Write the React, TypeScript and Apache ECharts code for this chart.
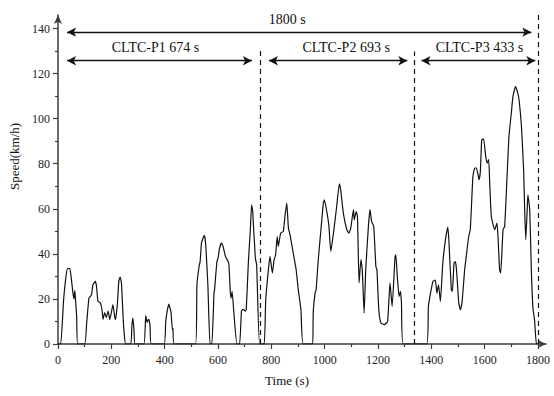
import React, { useEffect, useRef } from "react";
import * as echarts from "echarts";

// Speed profile (time in s, speed in km/h)
const timeS = [
  0, 10, 21, 28, 35, 44, 50, 56, 60, 63, 65, 70, 74,
  100, 108, 116, 121, 126, 131, 140, 144, 150, 159, 165, 169, 175, 181, 188, 194, 200, 206, 213, 216, 223, 228, 233, 238, 244, 248, 254,
  273, 277, 281, 285, 289,
  322, 329, 334, 337, 341, 345, 350,
  398, 404, 410, 416, 420, 424, 429, 431, 435,
  516, 521, 529, 533, 538, 544, 549, 554, 562, 570,
  577, 585, 587, 596, 600, 606, 613, 619, 628, 638, 641, 646, 649, 653, 659, 671,
  681, 688, 694, 703, 706, 714, 721, 726, 730, 740, 745, 756,
  773, 779, 789, 795, 804, 810, 816, 822, 826, 835, 845, 851, 858, 864, 870, 880, 893, 901, 911, 919,
  955, 957, 964, 968, 976, 986, 995, 999, 1008, 1016, 1023, 1033, 1045, 1055, 1060, 1070, 1083, 1091, 1098, 1108, 1111, 1118, 1123, 1129, 1136, 1141, 1148, 1154, 1164, 1170, 1176, 1184, 1192, 1196, 1203, 1211, 1224, 1236, 1245, 1253, 1264, 1267, 1272, 1279, 1284, 1288, 1294,
  1383, 1389, 1396, 1406, 1415, 1421, 1427, 1434, 1443, 1453, 1462, 1466, 1475, 1479, 1485, 1490, 1494, 1503, 1509, 1515, 1525, 1531, 1540, 1546, 1551, 1556, 1563, 1569, 1579, 1584, 1589, 1596, 1604, 1609, 1615, 1619, 1625, 1638, 1646, 1650, 1656, 1660, 1669, 1675, 1684, 1691, 1700, 1706, 1716, 1724, 1729, 1738, 1746, 1750, 1754, 1759, 1762, 1769, 1775, 1781, 1787, 1794, 1800,
];
const speedKmh = [
  0, 0, 19.6, 28, 33.5, 33.5, 29, 22.6, 20, 23.7, 21, 12, 0,
  0, 10, 20.4, 21, 22, 26.3, 27.8, 25.9, 18.9, 18.2, 15.2, 10.9, 13.9, 11.8, 14.6, 10.9, 13.9, 17.5, 11.8, 10.9, 18.2, 27.8, 29.7, 27, 12.2, 4.9, 0,
  0, 8, 11.5, 6, 0,
  0, 12.6, 9.6, 10.5, 10.9, 8, 0,
  0, 10, 15, 17.7, 16, 13.8, 6.3, 7, 0,
  0, 26.3, 34.4, 36.6, 44.8, 47, 48.2, 44, 26.3, 0,
  0, 22.6, 24, 36.6, 38, 42.6, 44.8, 43.3, 38.9, 36.6, 35.2, 23.4, 20.4, 23.4, 14.6, 0,
  0, 14.6, 15.4, 14.6, 15.4, 36.6, 50, 61.8, 59, 38.1, 35.2, 0,
  0, 19.7, 33, 38.9, 31.5, 37.1, 39.6, 47.7, 43.3, 49.2, 50, 56.6, 62.5, 51.5, 48.5, 41.8, 33, 24.1, 15.2, 0,
  0, 13.7, 22.6, 24.1, 37.4, 50.7, 62.5, 64, 58.8, 52.2, 41.1, 49.2, 61, 71.1, 68.5, 58.1, 50.7, 49.2, 51.5, 59.6, 55.1, 58.8, 56.6, 27.1, 37.4, 33, 13.7, 33, 52.2, 59.6, 54.4, 52.2, 34.4, 33, 15.2, 9.3, 8.6, 10, 27.1, 16.7, 38.9, 39.6, 30.6, 21.1, 23.4, 18.2, 0,
  0, 16.7, 21.9, 27.8, 28.4, 22.6, 26.3, 18.9, 35.9, 46.3, 51.9, 45.5, 24.1, 23.4, 35.9, 36.6, 33.5, 18.2, 15.2, 18.2, 33, 38.9, 47.7, 50.7, 62.5, 74.4, 78.1, 78.1, 72.9, 76.9, 90.6, 91, 83.2, 80.3, 81.8, 71.4, 56.6, 50.7, 53.7, 47.7, 33, 31.5, 50.7, 52.2, 74.4, 92.1, 102.5, 109.8, 114.3, 111.3, 108.4, 96.5, 77.3, 59.6, 46.3, 58.1, 66.2, 59.6, 33, 16, 10.8, 0, 0,
];

const xTickValues = [0, 200, 400, 600, 800, 1000, 1200, 1400, 1600, 1800];
const xMinorTickValues = [100, 300, 500, 700, 900, 1100, 1300, 1500, 1700];
const yTickValues = [0, 20, 40, 60, 80, 100, 120, 140];
const yMinorTickValues = [10, 30, 50, 70, 90, 110, 130];

// Phase boundaries (dashed) and their top ends
const boundaryTimes = [760, 1337, 1800];
const boundaryTops = [131.4, 129.8, 146];

// Span annotations (double arrows)
const spanNames = ["1800 s", "CLTC-P1 674 s", "CLTC-P2 693 s", "CLTC-P3 433 s"];
const spanStarts = [34, 34, 791, 1363];
const spanEnds = [1775, 727, 1310, 1790];
const spanLevels = [138.4, 125.7, 125.7, 125.7];

export default function App() {
  const ref = useRef<HTMLDivElement>(null);
  useEffect(() => {
    const chart = echarts.init(ref.current!, null, { renderer: "svg" });
    const font = "'Liberation Serif', 'Times New Roman', serif";
    const axisColor = "#3c3c3c";
    const xMax = 1830;
    const yMax = 146;
    const labelOffsets = [[-12, 0], [-4, 0], [8, 0], [1, 0]];

    chart.setOption({
      animation: false,
      grid: { left: 58, right: 8, top: 15, bottom: 52, containLabel: false, outerBoundsMode: "none" },
      xAxis: [
        {
          type: "value", min: 0, max: xMax, position: "bottom",
          splitLine: { show: false },
          axisLine: { show: true, lineStyle: { color: axisColor, width: 1.5 }, symbol: ["none", "arrow"], symbolSize: [6, 8] },
          axisTick: { show: true, customValues: xTickValues, length: 5, lineStyle: { color: axisColor, width: 1.2 } },
          axisLabel: { customValues: xTickValues, formatter: (v: number) => String(v), margin: 10, fontFamily: font, fontSize: 12, color: "#222" },
          name: "Time (s)", nameLocation: "middle", nameGap: 30,
          nameTextStyle: { fontFamily: font, fontSize: 13, color: "#111", padding: [0, 30, 0, 0] },
        },
        {
          type: "value", min: 0, max: xMax, position: "bottom",
          splitLine: { show: false },
          axisLine: { show: false },
          axisTick: { show: true, customValues: xMinorTickValues, length: 3, lineStyle: { color: axisColor, width: 1.2 } },
          axisLabel: { show: false },
        },
      ],
      yAxis: [
        {
          type: "value", min: 0, max: yMax, position: "left",
          splitLine: { show: false },
          axisLine: { show: true, lineStyle: { color: axisColor, width: 1.5 }, symbol: ["none", "arrow"], symbolSize: [6, 9] },
          axisTick: { show: true, customValues: yTickValues, length: 5, lineStyle: { color: axisColor, width: 1.2 } },
          axisLabel: { customValues: yTickValues, formatter: (v: number) => String(v), margin: 8, fontFamily: font, fontSize: 12, color: "#222" },
          name: "Speed(km/h)", nameLocation: "middle", nameGap: 34,
          nameTextStyle: { fontFamily: font, fontSize: 13, color: "#111", padding: [0, 0, 0, 46] },
        },
        {
          type: "value", min: 0, max: yMax, position: "left",
          splitLine: { show: false },
          axisLine: { show: false },
          axisTick: { show: true, customValues: yMinorTickValues, length: 3, lineStyle: { color: axisColor, width: 1.2 } },
          axisLabel: { show: false },
        },
      ],
      series: [
        {
          type: "line", xAxisIndex: 0, yAxisIndex: 0,
          data: timeS.map((t, i) => [t, speedKmh[i]]),
          symbol: "none", smooth: 0.15,
          lineStyle: { color: "#111", width: 1.2 },
        },
        {
          type: "line", xAxisIndex: 0, yAxisIndex: 0, data: [],
          markLine: {
            silent: true, symbol: "none",
            lineStyle: { type: [5, 4], color: "#111", width: 1.2 },
            label: { show: false },
            data: boundaryTimes.map((t, i) => [{ coord: [t, 0] }, { coord: [t, boundaryTops[i]] }]),
          },
        },
        {
          type: "line", xAxisIndex: 0, yAxisIndex: 0, data: [],
          markLine: {
            silent: true, symbol: ["arrow", "arrow"], symbolSize: [7, 9],
            lineStyle: { type: "solid", color: "#111", width: 1.3 },
            label: { show: true, position: "middle", distance: 6, formatter: (p: any) => p.name, fontFamily: font, fontSize: 14, color: "#111" },
            data: spanNames.map((n, i) => [
              { name: n, coord: [spanStarts[i], spanLevels[i]], label: { offset: labelOffsets[i] } },
              { coord: [spanEnds[i], spanLevels[i]] },
            ]),
          },
        },
      ],
    });
    return () => chart.dispose();
  }, []);
  return <div ref={ref} style={{ width: 554, height: 396, position: "absolute", left: 0, top: 0 }} />;
}
